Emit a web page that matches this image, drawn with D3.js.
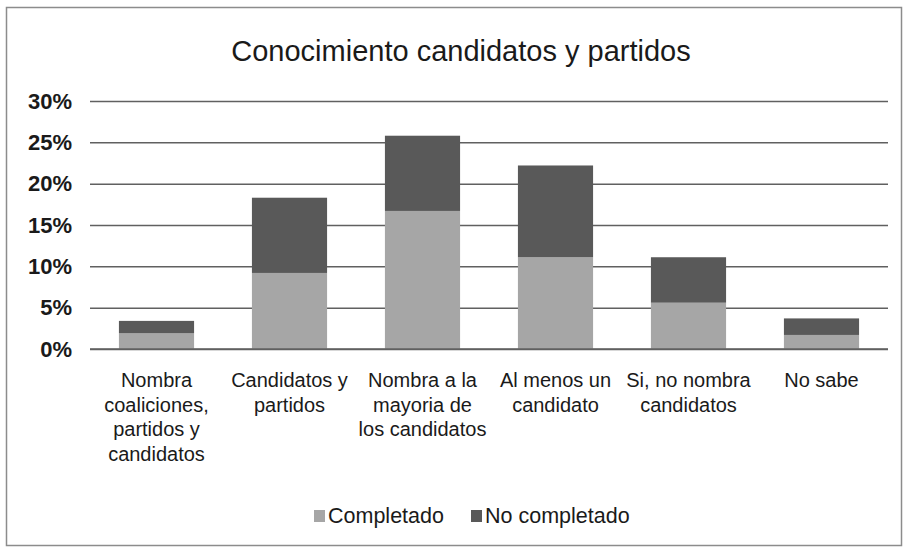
<!DOCTYPE html>
<html>
<head>
<meta charset="utf-8">
<script src="https://cdn.jsdelivr.net/npm/d3@7"></script>
<style>
  html, body { margin: 0; padding: 0; background: #ffffff; }
  svg { display: block; font-family: "Liberation Sans", Arial, sans-serif; }
</style>
</head>
<body>
<svg id="chart" width="905" height="552"></svg>
<script>
const categories = [
  ["Nombra", "coaliciones,", "partidos y", "candidatos"],
  ["Candidatos y", "partidos"],
  ["Nombra a la", "mayoria de", "los candidatos"],
  ["Al menos un", "candidato"],
  ["Si, no nombra", "candidatos"],
  ["No sabe"]
];
const categoryKeys = ["c1", "c2", "c3", "c4", "c5", "c6"];
const completado   = [1.9, 9.2, 16.7, 11.1, 5.6, 1.7];
const noCompletado = [1.5, 9.1, 9.1, 11.1, 5.5, 2.0];
const seriesNames  = ["Completado", "No completado"];
const seriesColors = ["#a6a6a6", "#595959"];
const yTicks = [0, 5, 10, 15, 20, 25, 30];
const title = "Conocimiento candidatos y partidos";

const svg = d3.select("#chart");
const W = 905, H = 552;
const margin = { left: 90, right: 17, top: 101, bottom: 203 };
const plotW = W - margin.left - margin.right;
const plotH = H - margin.top - margin.bottom;

// frame
svg.append("rect")
  .attr("x", 6.5).attr("y", 7.5)
  .attr("width", 895).attr("height", 538)
  .attr("fill", "#ffffff").attr("stroke", "#8c8c8c").attr("stroke-width", 1.5);

// title
svg.append("text")
  .attr("x", 461).attr("y", 61)
  .attr("text-anchor", "middle")
  .attr("font-size", 29)
  .attr("fill", "#1a1a1a")
  .text(title);

const g = svg.append("g").attr("transform", `translate(${margin.left},${margin.top})`);

const x = d3.scaleBand().domain(categoryKeys).range([0, plotW]).paddingInner(0.435).paddingOuter(0.2175);
const y = d3.scaleLinear().domain([0, 30]).range([plotH, 0]);

// gridlines
g.append("g")
  .call(d3.axisLeft(y).tickValues(yTicks).tickSize(-plotW).tickFormat(""))
  .call(a => a.select(".domain").remove())
  .call(a => a.selectAll("line").attr("stroke", "#606060").attr("stroke-width", 1.5));

// y labels
g.append("g")
  .call(d3.axisLeft(y).tickValues(yTicks).tickSize(0).tickPadding(18).tickFormat(d => d + "%"))
  .call(a => a.select(".domain").remove())
  .call(a => a.selectAll("text")
    .attr("font-size", 22).attr("font-weight", "bold")
    .attr("font-family", "Liberation Sans, Arial, sans-serif")
    .attr("fill", "#1a1a1a"));

// stacked data
const rows = categoryKeys.map((k, i) => ({ key: k, Completado: completado[i], "No completado": noCompletado[i] }));
const stack = d3.stack().keys(seriesNames)(rows);

g.selectAll("g.series")
  .data(stack)
  .join("g")
  .attr("class", "series")
  .attr("fill", (d, i) => seriesColors[i])
  .selectAll("rect")
  .data(d => d)
  .join("rect")
  .attr("x", d => x(d.data.key))
  .attr("width", x.bandwidth())
  .attr("y", d => y(d[1]))
  .attr("height", d => y(d[0]) - y(d[1]));

// baseline
g.append("line")
  .attr("x1", 0).attr("x2", plotW)
  .attr("y1", y(0)).attr("y2", y(0))
  .attr("stroke", "#606060").attr("stroke-width", 1.5);

// x category labels
const xAxis = g.append("g").attr("transform", `translate(0,${plotH})`)
  .call(d3.axisBottom(x).tickSize(0).tickFormat(""));
xAxis.select(".domain").remove();
categoryKeys.forEach((k, i) => {
  const t = g.append("text")
    .attr("x", x(k) + x.bandwidth() / 2)
    .attr("y", plotH + 38)
    .attr("text-anchor", "middle")
    .attr("font-size", 20)
    .attr("fill", "#1a1a1a");
  categories[i].forEach((line, j) => {
    t.append("tspan").attr("x", x(k) + x.bandwidth() / 2).attr("dy", j === 0 ? 0 : 24.5).text(line);
  });
});

// legend
const legendItems = [
  { name: seriesNames[0], color: seriesColors[0], x: 314 },
  { name: seriesNames[1], color: seriesColors[1], x: 471 }
];
const lg = svg.append("g");
legendItems.forEach(it => {
  lg.append("rect").attr("x", it.x).attr("y", 510).attr("width", 11).attr("height", 12).attr("fill", it.color);
  lg.append("text").attr("x", it.x + 14).attr("y", 523)
    .attr("font-size", 21.5).attr("fill", "#1a1a1a").text(it.name);
});
</script>
</body>
</html>
